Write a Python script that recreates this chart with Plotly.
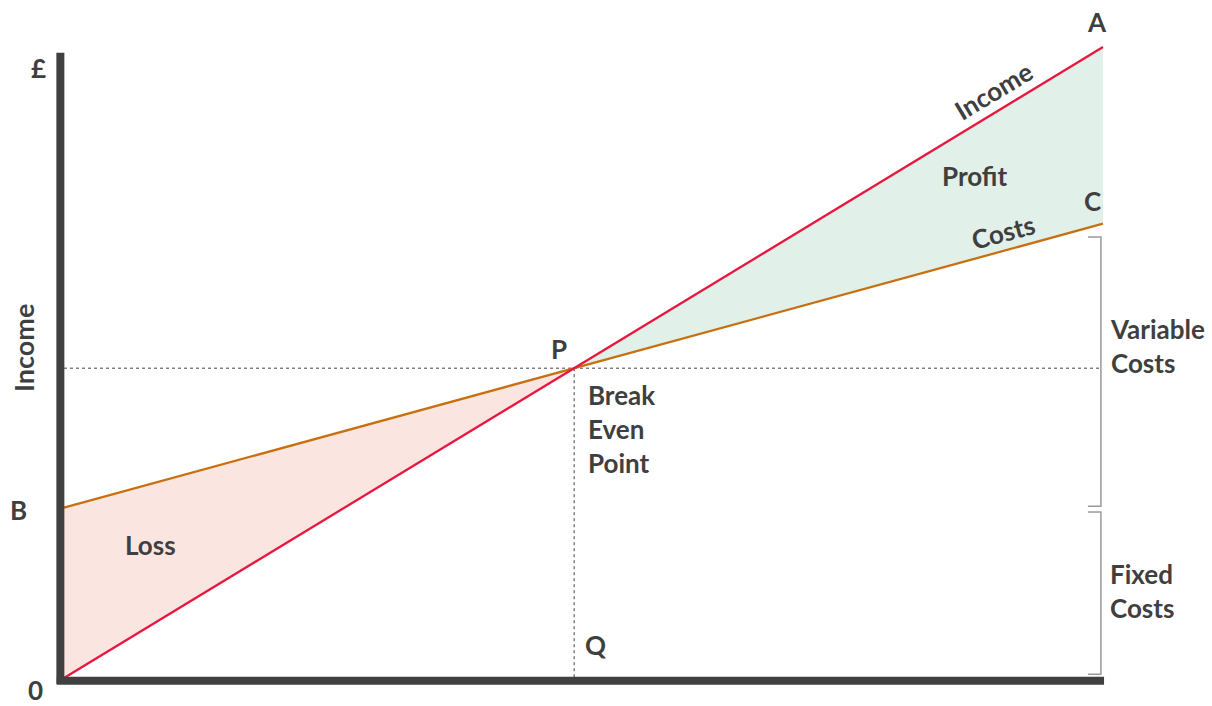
import plotly.graph_objects as go

# Break-even chart: quantity on x, £ on y
quantity = [0, 10]
income = [0, 100]
costs = [27, 72]          # fixed costs at 0, total costs at full output
break_even = (4.91, 49.1)

W, H = 1212, 706
PX_X = 103.9   # pixels per unit of quantity
PX_Y = 6.31    # pixels per £
X0, Y0 = 64, 678  # pixel position of the origin

x_range = [-X0 / PX_X, (W - X0) / PX_X]
y_range = [-(H - Y0) / PX_Y, Y0 / PX_Y]

TXT = "#3F3F3F"
RED = "#E8173F"
ORANGE = "#C8700F"
FONT = "Lato"

fig = go.Figure()

# Loss area (B - P - O)
fig.add_trace(go.Scatter(
    x=[quantity[0], break_even[0], quantity[0]],
    y=[costs[0], break_even[1], income[0]],
    fill="toself", fillcolor="#FBE5E1", line=dict(width=0),
    mode="lines", hoverinfo="skip"))
# Profit area (P - A - C)
fig.add_trace(go.Scatter(
    x=[break_even[0], quantity[1], quantity[1]],
    y=[break_even[1], income[1], costs[1]],
    fill="toself", fillcolor="#E2F0EA", line=dict(width=0),
    mode="lines", hoverinfo="skip"))

# Guide lines through the break-even point
fig.add_trace(go.Scatter(
    x=[0, 9.99], y=[break_even[1], break_even[1]], mode="lines",
    line=dict(color="#444444", width=1, dash="dot"), hoverinfo="skip"))
fig.add_trace(go.Scatter(
    x=[break_even[0], break_even[0]], y=[break_even[1], -0.9], mode="lines",
    line=dict(color="#444444", width=1, dash="dot"), hoverinfo="skip"))

# Costs and income lines
fig.add_trace(go.Scatter(x=quantity, y=costs, mode="lines",
                         line=dict(color=ORANGE, width=2.3), hoverinfo="skip"))
fig.add_trace(go.Scatter(x=quantity, y=income, mode="lines",
                         line=dict(color=RED, width=2.3), hoverinfo="skip"))

# Axes drawn as heavy bars
fig.add_shape(type="line", x0=-0.035, x1=-0.035, y0=-0.95, y1=99.1,
              line=dict(color="#404040", width=8))
fig.add_shape(type="line", x0=-0.07, x1=10.01, y0=-0.45, y1=-0.45,
              line=dict(color="#404040", width=8))

# Brackets for variable and fixed costs
def bracket(y_top, y_bot):
    xb, xt = 9.98, 9.855
    fig.add_shape(type="path",
                  path=f"M {xt},{y_top} L {xb},{y_top} L {xb},{y_bot} L {xt},{y_bot}",
                  line=dict(color="#9A9A9A", width=1.5))

bracket(69.9, 27.2)
bracket(26.3, 0.6)

def label(text, x, y, size=26, xanchor="center", angle=0):
    fig.add_annotation(
        text=text, x=x, y=y, xref="x", yref="y",
        showarrow=False, xanchor=xanchor, yanchor="middle", textangle=angle,
        font=dict(family=FONT, size=size, color=TXT, weight="bold"), align="left")

def px(x, y):
    return (x - X0) / PX_X, (Y0 - y) / PX_Y

label("£", *px(38, 68))
label("B", *px(18, 510))
label("0", *px(35, 690))
label("A", *px(1097, 22))
label("C", *px(1092, 201))
label("P", *px(559, 349))
label("Q", *px(596, 645))
label("Loss", *px(150, 545))
label("Profit", *px(974, 176))
label("Income", *px(993, 91), angle=-31)
label("Costs", *px(1003, 232), angle=-15)
label("Break<br>Even<br>Point", *px(586, 429), xanchor="left")
label("Variable<br>Costs", *px(1108, 346), xanchor="left")
label("Fixed<br>Costs", *px(1108, 591), xanchor="left")
label("Income", *px(23, 348), size=27, angle=-90)

fig.update_layout(
    width=W, height=H, margin=dict(l=0, r=0, t=0, b=0),
    paper_bgcolor="white", plot_bgcolor="white", showlegend=False,
    xaxis=dict(range=x_range, visible=False, fixedrange=True),
    yaxis=dict(range=y_range, visible=False, fixedrange=True),
)

fig.write_html("out.html")
